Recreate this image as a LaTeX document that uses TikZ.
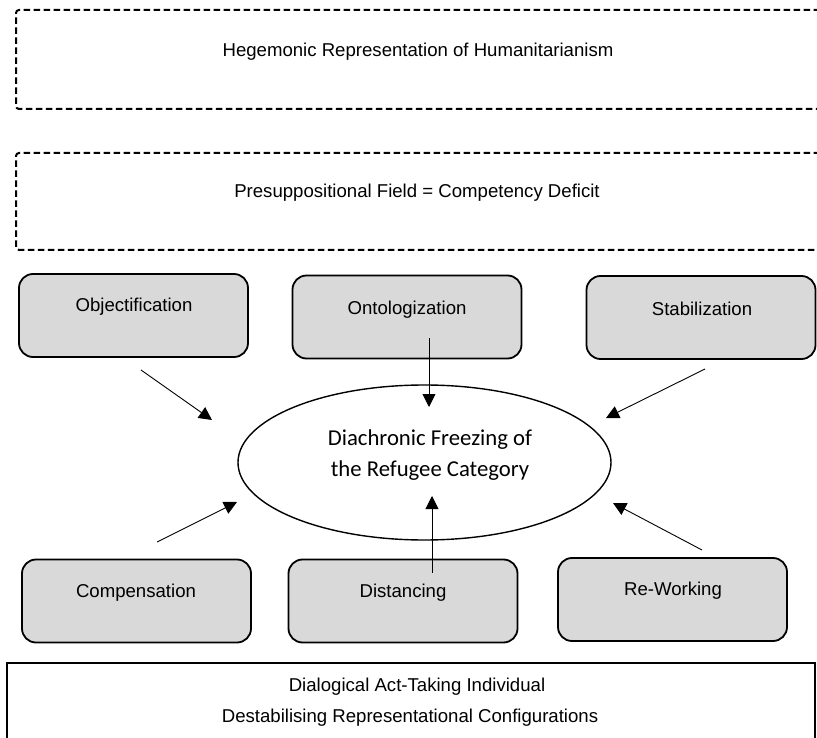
\documentclass[tikz,border=0pt]{standalone}
\usepackage{fontspec}
\setmainfont{Liberation Sans}
\newfontfamily\calib{Carlito}
\usetikzlibrary{arrows.meta,shapes.geometric}
\definecolor{boxgray}{HTML}{D9D9D9}
\begin{document}
\begin{tikzpicture}[x=1pt,y=-1pt,
  dashbox/.style={draw, dash pattern=on 6.5pt off 3.5pt, line width=2pt, rounded corners=3pt},
  procbox/.style={draw, line width=1.8pt, rounded corners=14pt, fill=boxgray, minimum width=229pt, minimum height=83pt, inner sep=0pt},
  lbl/.style={font=\fontsize{18.6}{22}\selectfont, inner sep=0pt},
  ell/.style={draw, ellipse, line width=1.4pt, minimum width=373pt, minimum height=155pt, inner sep=0pt},
  elltext/.style={font=\calib\fontsize{22.7}{31}\selectfont, align=center, inner sep=0pt},
  arr/.style={line width=0.9pt, -{Triangle[length=13pt,width=13pt]}}]
\useasboundingbox (0,0) rectangle (817,738);
\clip (0,0) rectangle (817,738);
% dashed bands
\draw[dashbox] (840,10) -- (16,10) -- (16,109) -- (840,109);
\node[lbl] (hego) at (418,52) {Hegemonic Representation of Humanitarianism};
\draw[dashbox] (840,153) -- (16,153) -- (16,250) -- (840,250);
\node[lbl] (presup) at (417,193) {Presuppositional Field = Competency Deficit};
% process boxes
\node[procbox] (obj) at (133.5,315.5) {};
\node[lbl] (objt) at (134,307) {Objectification};
\node[procbox] (ont) at (407,317) {};
\node[lbl] (ontt) at (407,310) {Ontologization};
\node[procbox] (sta) at (701,317.5) {};
\node[lbl] (stat) at (702,309) {Stabilization};
\node[procbox] (com) at (136.5,601) {};
\node[lbl] (comt) at (136,593) {Compensation};
\node[procbox] (dis) at (403,601) {};
\node[lbl] (dist) at (403,593) {Distancing};
\node[procbox] (rew) at (672.5,599.5) {};
\node[lbl] (rewt) at (673,591) {Re-Working};
% central ellipse
\node[ell] (dfz) at (424.5,462.5) {};
\node[elltext] (dfzt) at (430,455) {Diachronic Freezing of\\the Refugee Category};
% bottom box
\draw[line width=1.8pt] (7,760) -- (7,663) -- (815,663) -- (815,760);
\node[lbl] (dial) at (417,687) {Dialogical Act-Taking Individual};
\node[lbl] (destab) at (410,718) {Destabilising Representational Configurations};
% connector endpoints
\coordinate (objS) at (141,370);  \coordinate (objE) at (212,420);
\coordinate (ontS) at (429,338);  \coordinate (ontE) at (429,407);
\coordinate (staS) at (705,369);  \coordinate (staE) at (606,418);
\coordinate (comS) at (157,542);  \coordinate (comE) at (237,502);
\coordinate (disS) at (432,573);  \coordinate (disE) at (432,496);
\coordinate (rewS) at (702,550);  \coordinate (rewE) at (613,503);
\draw[arr] (objS) -- (objE);
\draw[arr] (ontS) -- (ontE);
\draw[arr] (staS) -- (staE);
\draw[arr] (comS) -- (comE);
\draw[arr] (disS) -- (disE);
\draw[arr] (rewS) -- (rewE);
\end{tikzpicture}
\end{document}
